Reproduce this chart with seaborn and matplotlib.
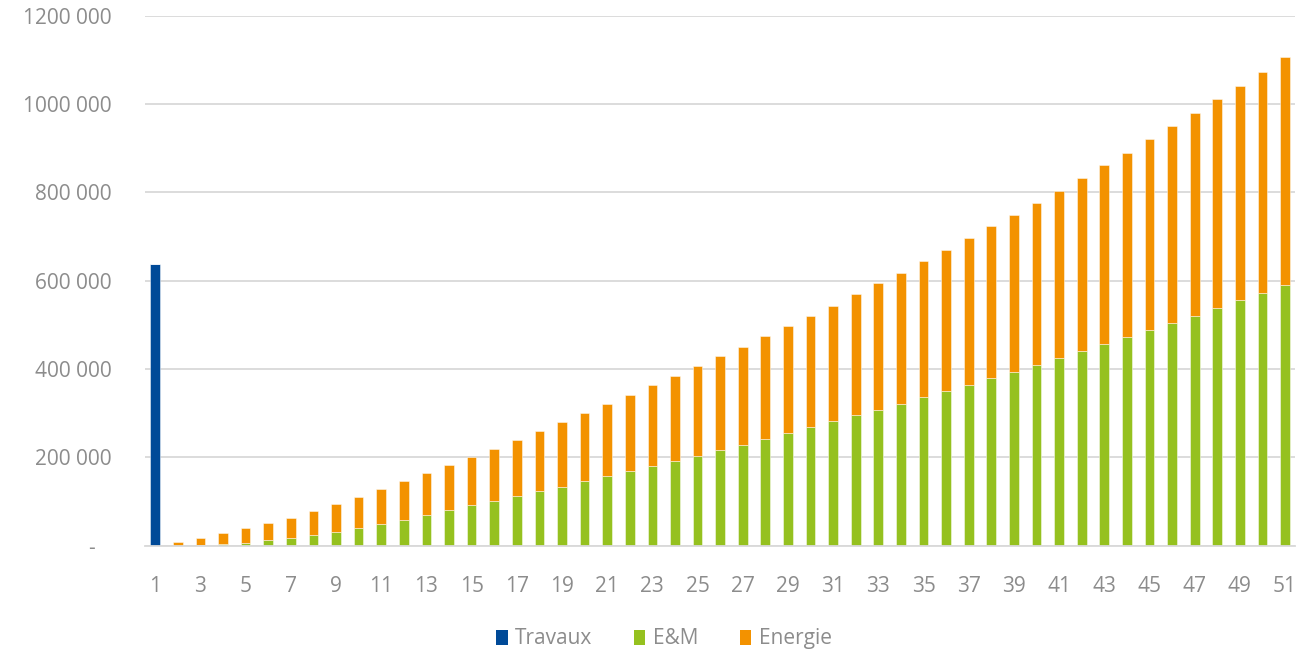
import matplotlib
matplotlib.use("Agg")
import matplotlib.pyplot as plt
import seaborn as sns
import pandas as pd
from matplotlib.patches import Patch
from matplotlib.ticker import FuncFormatter

# Years 1..51
annees = [str(i) for i in range(1, 52)]

# Travaux: one-off investment in year 1
travaux = [638000] + [0] * 50

# E&M costs (years 2..51)
em = [0, 0, 1000, 4000, 7000, 12000, 17000, 24000, 32000, 41000, 50000, 59000,
      69000, 80000, 92000, 102000, 113000, 124000, 134000, 146000, 157000,
      169000, 180000, 192000, 204000, 217000, 229000, 242000, 255000, 269000,
      282000, 295000, 308000, 321000, 337000, 350000, 364000, 380000, 394000,
      409000, 425000, 441000, 456000, 472000, 488000, 505000, 521000, 538000,
      556000, 573000, 590000]

# Energie costs (years 2..51)
energie = [0, 9000, 17000, 24000, 33000, 39000, 47000, 54000, 62000, 69000,
           78000, 87000, 95000, 103000, 109000, 118000, 127000, 136000, 146000,
           154000, 164000, 172000, 183000, 192000, 202000, 212000, 222000,
           233000, 242000, 252000, 262000, 275000, 286000, 297000, 307000,
           320000, 332000, 343000, 355000, 368000, 379000, 392000, 405000,
           418000, 432000, 445000, 459000, 473000, 486000, 500000, 516000]

series_names = ["Travaux", "E&M", "Energie"]
colors = {"Travaux": "#004a98", "E&M": "#95c11f", "Energie": "#f39200"}

df = pd.DataFrame({"annee": annees, "Travaux": travaux, "E&M": em, "Energie": energie})

sns.set_theme(style="white")
plt.rcParams["font.family"] = ["Open Sans", "DejaVu Sans"]

text_color = "#8c8c8c"
grid_color = "#d9d9d9"

fig = plt.figure(figsize=(13.07, 6.56), dpi=100)
ax = fig.add_axes([0.111, 0.168, 0.880, 0.808])

bottom = pd.Series([0.0] * len(df))
for name in series_names:
    sns.barplot(data=df, x="annee", y=name, order=annees, color=colors[name],
                width=0.43, bottom=bottom.values, ax=ax,
                edgecolor=(1, 1, 1, 0.55), linewidth=0.6, saturation=1)
    bottom = bottom + df[name]

ax.set_ylim(0, 1200000)
ax.set_xlim(-0.45, 50.45)
ax.set_yticks(range(0, 1200001, 200000))
ax.yaxis.set_major_formatter(FuncFormatter(
    lambda v, p: "-   " if v == 0 else f"{int(v // 1000)} 000"))
ax.set_xticks(range(0, 51, 2))
ax.set_xticklabels(annees[::2])

ax.set_xlabel("")
ax.set_ylabel("")
ax.grid(axis="y", color=grid_color, linewidth=1.3)
ax.set_axisbelow(True)
for s in ["top", "right", "left"]:
    ax.spines[s].set_visible(False)
ax.spines["bottom"].set_color(grid_color)
ax.spines["bottom"].set_linewidth(1.3)

ax.tick_params(axis="y", length=0, pad=24, labelsize=15, labelcolor=text_color)
ax.tick_params(axis="x", length=0, pad=22, labelsize=15, labelcolor=text_color)

handles = [Patch(facecolor=colors[n], edgecolor="none", label=n) for n in series_names]
fig.legend(handles=handles, loc="center", bbox_to_anchor=(0.508, 0.026), ncol=3,
           frameon=False, fontsize=15, labelcolor=text_color,
           handlelength=0.55, handleheight=0.75, handletextpad=0.35,
           columnspacing=2.0)

fig.savefig("out.png", dpi=100)
